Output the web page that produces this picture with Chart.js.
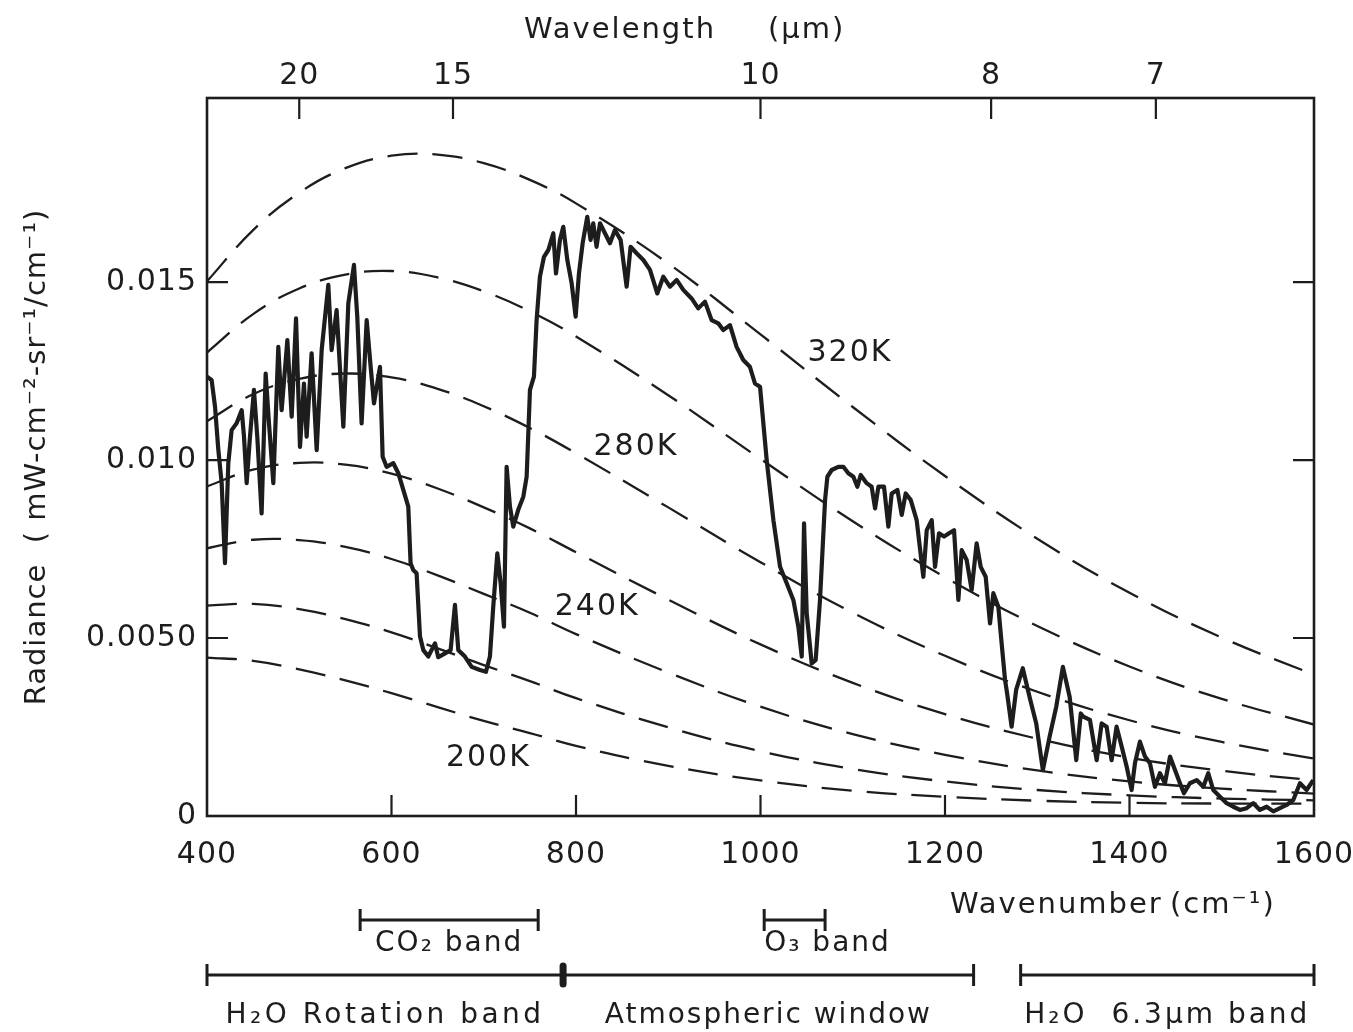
<!DOCTYPE html>
<html>
<head>
<meta charset="utf-8">
<title>Radiance spectrum</title>
<script src="https://cdn.jsdelivr.net/npm/chart.js@4.4.0/dist/chart.umd.min.js"></script>
<style>
  html, body { margin: 0; padding: 0; background: #fff; }
  canvas { display: block; }
</style>
</head>
<body>
<canvas id="spectrumChart" width="1353" height="1032"></canvas>
<script>
// measured spectrum (wavenumber in cm-1, radiance in mW cm-2 sr-1 / cm-1)
const wavenumber = [
  400, 405, 408.7, 412.3, 415.9, 419.5, 423.1, 426.7, 432.1, 437.6, 440.1, 443, 446.6, 450.9, 454.5,
  459.2, 463.6, 467.2, 471.9, 477.3, 480.9, 487.1, 491.8, 496.5, 500.8, 505.1, 508, 513.4, 518.9,
  524.3, 531.5, 535.1, 540.5, 547.8, 553.2, 559.3, 562.9, 567.6, 573.1, 577.4, 581, 587.5, 590.4,
  594.7, 602, 607.4, 612.8, 618.2, 620.7, 623.6, 627.2, 630.9, 634.5, 639.9, 647.1, 650.7, 658,
  664.1, 668.8, 672.4, 679.6, 686.9, 695.9, 702.4, 706.7, 710.3, 714.7, 718.3, 721.9, 724.8, 728.4,
  732, 737.4, 742.9, 746.5, 750.1, 754.4, 757.3, 760.9, 765.3, 770, 775.4, 778.3, 782.6, 786.2,
  790.6, 795.3, 799.6, 803.2, 807.2, 812.2, 815.8, 818.7, 822.3, 826, 831.4, 836.8, 842.2, 848.4,
  854.9, 859.2, 865.7, 873, 880.2, 888.1, 894.6, 901.8, 909.1, 916.3, 925.3, 932.5, 939.8, 947,
  954.2, 959.6, 966.9, 974.1, 981.3, 988.5, 994, 999.5, 1006.7, 1014, 1021.2, 1028.4, 1035.6, 1041,
  1044.7, 1047.2, 1050.1, 1055.5, 1059.8, 1064.5, 1070, 1072.5, 1077.2, 1084.4, 1089.8, 1095.2,
  1100.7, 1105, 1108.6, 1115.1, 1120.5, 1124.2, 1127.8, 1133.9, 1138.6, 1142.2, 1148.4, 1153.1,
  1157.4, 1162.8, 1169.3, 1176.5, 1180.2, 1185.6, 1189.2, 1193.5, 1199, 1204.4, 1209.8, 1214.5,
  1218.1, 1223.5, 1228.9, 1234.3, 1238.7, 1244.1, 1248.8, 1252.4, 1257.8, 1261.4, 1265.1, 1267.3,
  1272.2, 1277.1, 1284.3, 1291.6, 1298.9, 1306.1, 1313.4, 1320.6, 1327.8, 1335.1, 1342.3, 1347.2,
  1349.9, 1357.1, 1364.4, 1369.8, 1375.2, 1380.6, 1386, 1391.5, 1396.9, 1402.3, 1405.9, 1411.3,
  1416.8, 1422.2, 1427.6, 1433, 1438.4, 1443.9, 1449.3, 1454.7, 1459, 1465.5, 1472.8, 1480, 1485.4,
  1490.8, 1498.1, 1505.3, 1512.5, 1519.7, 1527, 1534.2, 1541.4, 1548.6, 1555.9, 1563.1, 1570.3,
  1577.5, 1584.8, 1592, 1599.2
];
const radiance = [
  0.01234, 0.01225, 0.0115, 0.01028, 0.00935, 0.0071, 0.00991, 0.01084, 0.01103, 0.0114, 0.01066, 0.00935, 0.01066, 0.01197, 0.01066,
  0.0085, 0.01243, 0.01103, 0.00935, 0.01318, 0.0114, 0.01337, 0.01122, 0.01398, 0.01037, 0.01215, 0.01066, 0.013, 0.01028,
  0.01309, 0.01492, 0.01309, 0.01421, 0.01094, 0.0144, 0.01548, 0.01403, 0.01103, 0.01393, 0.01262, 0.01159, 0.01262, 0.01009,
  0.00981, 0.00991, 0.00963, 0.00916, 0.00869, 0.0071, 0.00691, 0.00682, 0.00504, 0.00466, 0.00448, 0.00485, 0.00446, 0.00457,
  0.00466, 0.00593, 0.00466, 0.00448, 0.00419, 0.0041, 0.00405, 0.00448, 0.00588, 0.00738, 0.00654, 0.00532, 0.00981, 0.00869,
  0.00813, 0.0086, 0.00897, 0.00953, 0.01197, 0.01234, 0.01393, 0.01515, 0.01571, 0.0159, 0.01637, 0.01524, 0.01618, 0.01655,
  0.01562, 0.01496, 0.01403, 0.01524, 0.01609, 0.01683, 0.01618, 0.01665, 0.01599, 0.01665, 0.01637, 0.01609, 0.01646, 0.01618,
  0.01487, 0.01599, 0.01581, 0.01562, 0.01534, 0.01468, 0.01515, 0.01487, 0.01506, 0.01478, 0.01454, 0.01426, 0.01445, 0.01393,
  0.01384, 0.01365, 0.01379, 0.01318, 0.01281, 0.01262, 0.01215, 0.01206, 0.01, 0.00831, 0.007, 0.00654, 0.00607, 0.00532,
  0.00448, 0.00822, 0.00569, 0.00429, 0.00438, 0.00607, 0.00888, 0.00953, 0.00972, 0.00981, 0.00981, 0.00963,
  0.00953, 0.00925, 0.00958, 0.00935, 0.00925, 0.00864, 0.00925, 0.00925, 0.00813, 0.00906, 0.00916, 0.00846,
  0.00906, 0.00888, 0.00831, 0.00672, 0.00803, 0.00831, 0.007, 0.00794, 0.00785, 0.00794, 0.00803, 0.00607,
  0.00747, 0.00719, 0.00635, 0.00766, 0.007, 0.00672, 0.00541, 0.00626, 0.00588, 0.00485, 0.00382, 0.00345,
  0.00251, 0.00354, 0.00415, 0.00335, 0.0026, 0.00129, 0.00223, 0.00307, 0.00419, 0.00335, 0.00157, 0.00288,
  0.00279, 0.0027, 0.00157, 0.0026, 0.00251, 0.00157, 0.00251, 0.00195, 0.00139, 0.00073, 0.00148, 0.00209,
  0.00167, 0.00148, 0.00082, 0.0012, 0.00092, 0.00167, 0.00129, 0.00092, 0.00064, 0.00092, 0.00101, 0.00082, 0.0012,
  0.00073, 0.00054, 0.00036, 0.00026, 0.00017, 0.00022, 0.00036, 0.00017, 0.00026, 0.00013, 0.00022, 0.00031,
  0.00045, 0.00092, 0.00073, 0.00101
];

// blackbody reference curves, read at these wavenumbers
const planckWavenumber = [400, 450, 500, 550, 600, 650, 700, 750, 800, 900, 1000, 1100, 1200, 1300, 1400, 1500, 1600];
const planck320 = [0.01502, 0.01646, 0.01751, 0.0182, 0.01855, 0.01858, 0.01834, 0.01787, 0.01721, 0.01552, 0.01353, 0.01149, 0.00955, 0.00779, 0.00627, 0.00501, 0.00397];
const planck300 = [0.01302, 0.0141, 0.01482, 0.01521, 0.01531, 0.01513, 0.01474, 0.01418, 0.01347, 0.01182, 0.01003, 0.00828, 0.00671, 0.00534, 0.0042, 0.00329, 0.00257];
const planck280 = [0.01109, 0.01185, 0.01228, 0.01243, 0.01232, 0.012, 0.01151, 0.0109, 0.01019, 0.00867, 0.00713, 0.00571, 0.0045, 0.00349, 0.00269, 0.00208, 0.00161];
const planck260 = [0.00926, 0.00973, 0.00992, 0.00987, 0.00962, 0.0092, 0.00867, 0.00808, 0.00741, 0.00608, 0.00482, 0.00374, 0.00286, 0.00217, 0.00164, 0.00127, 0.001];
const planck240 = [0.00752, 0.00776, 0.00775, 0.00756, 0.00722, 0.00676, 0.00624, 0.00571, 0.00511, 0.00403, 0.00307, 0.0023, 0.00172, 0.00128, 0.00097, 0.00077, 0.00063];
const planck220 = [0.00591, 0.00596, 0.00581, 0.00553, 0.00516, 0.00471, 0.00424, 0.00379, 0.00331, 0.00249, 0.00182, 0.00132, 0.00097, 0.00073, 0.00058, 0.00049, 0.00044];
const planck200 = [0.00445, 0.00436, 0.00412, 0.00381, 0.00345, 0.00306, 0.00267, 0.00233, 0.00197, 0.00141, 0.001, 0.00071, 0.00054, 0.00043, 0.00037, 0.00035, 0.00035];
const temperatures = ['320K', '300K', '280K', '260K', '240K', '220K', '200K'];
const planckCurves = [planck320, planck300, planck280, planck260, planck240, planck220, planck200];

// axes
const wavenumberTicks = [400, 600, 800, 1000, 1200, 1400, 1600];
const wavelengthTicks = [20, 15, 10, 8, 7];
const radianceTicks = [0, 0.005, 0.010, 0.015];
const radianceTickLabels = ['0', '0.0050', '0.010', '0.015'];

// absorption bands and windows under the axis
const bandNames = ['CO\u2082 band', 'O\u2083 band', 'H\u2082O Rotation band', 'Atmospheric window', 'H\u2082O  6.3\u00b5m band'];
const bandStart = [566, 1004, 400, 786, 1282];
const bandEnd = [759, 1070, 786, 1231, 1600];

const INK = '#1d1d1d';
const FONT = '"DejaVu Sans", sans-serif';
Chart.defaults.font.family = FONT;
Chart.defaults.color = INK;

const spacing = {
  id: 'spacing',
  beforeDraw(chart) { chart.ctx.letterSpacing = '1px'; }
};

const frame = {
  id: 'frame',
  afterDatasetsDraw(chart) {
    const { ctx, chartArea: a, scales } = chart;
    const len = 21;
    ctx.save();
    ctx.strokeStyle = INK;
    ctx.lineWidth = 2.6;
    ctx.strokeRect(a.left, a.top, a.right - a.left, a.bottom - a.top);
    ctx.lineWidth = 2.2;
    ctx.beginPath();
    wavenumberTicks.slice(1, -1).forEach(v => {
      const px = scales.x.getPixelForValue(v);
      ctx.moveTo(px, a.bottom); ctx.lineTo(px, a.bottom - len);
    });
    wavelengthTicks.forEach(l => {
      const px = scales.x2.getPixelForValue(10000 / l);
      ctx.moveTo(px, a.top); ctx.lineTo(px, a.top + len);
    });
    radianceTicks.slice(1).forEach(v => {
      const py = scales.y.getPixelForValue(v);
      ctx.moveTo(a.left, py); ctx.lineTo(a.left + len, py);
      ctx.moveTo(a.right, py); ctx.lineTo(a.right - len, py);
    });
    ctx.stroke();
    ctx.restore();
  }
};

const annotations = {
  id: 'annotations',
  afterDraw(chart, args, opts) {
    const { ctx, scales } = chart;
    const x = scales.x, y = scales.y;
    ctx.save();
    ctx.letterSpacing = '2px';
    ctx.fillStyle = INK;
    ctx.strokeStyle = INK;

    // temperature labels on the dashed curves
    ctx.font = `30px ${FONT}`;
    ctx.textAlign = 'center';
    ctx.textBaseline = 'middle';
    opts.curveLabels.forEach(l => {
      ctx.fillText(l.text, x.getPixelForValue(l.at[0]), y.getPixelForValue(l.at[1]));
    });

    // axis titles
    ctx.font = `29px ${FONT}`;
    ctx.textAlign = 'left';
    ctx.textBaseline = 'alphabetic';
    opts.titles.forEach(t => ctx.fillText(t.text, t.x, t.y));

    // band bars
    ctx.font = `28px ${FONT}`;
    bandNames.forEach((name, i) => {
      const row = opts.rows[opts.bandRow[i]];
      const x0 = x.getPixelForValue(bandStart[i]);
      const x1 = x.getPixelForValue(bandEnd[i]);
      ctx.lineWidth = 3;
      ctx.lineCap = 'butt';
      ctx.beginPath();
      ctx.moveTo(x0, row.bar); ctx.lineTo(x1, row.bar);
      ctx.moveTo(x0, row.bar - 11); ctx.lineTo(x0, row.bar + 11);
      ctx.moveTo(x1, row.bar - 11); ctx.lineTo(x1, row.bar + 11);
      ctx.stroke();
      const align = opts.bandAlign[i];
      ctx.textAlign = align;
      ctx.letterSpacing = opts.bandSpacing[i];
      ctx.fillText(name, align === 'left' ? x0 : (x0 + x1) / 2, row.text);
    });
    // heavier joint between the rotation band and the window
    const jx = x.getPixelForValue(bandEnd[2]);
    const jr = opts.rows[1];
    ctx.lineWidth = 7;
    ctx.lineCap = 'round';
    ctx.beginPath();
    ctx.moveTo(jx, jr.bar - 9); ctx.lineTo(jx, jr.bar + 9);
    ctx.stroke();
    ctx.restore();
  }
};

// keep the end labels from pulling the plot area in
const noEdgePadding = s => {
  s.paddingLeft = 0;
  s.paddingRight = 0;
};

const datasets = [{
  label: 'Spectrum',
  data: wavenumber.map((w, i) => ({ x: w, y: radiance[i] })),
  borderColor: INK,
  borderWidth: 4.2,
  borderJoinStyle: 'round',
  pointRadius: 0,
  tension: 0
}].concat(planckCurves.map((vals, i) => ({
  label: temperatures[i],
  data: planckWavenumber.map((w, j) => ({ x: w, y: vals[j] })),
  borderColor: INK,
  borderWidth: 2.3,
  borderDash: [30, 15],
  pointRadius: 0,
  tension: 0.4
})));

new Chart(document.getElementById('spectrumChart'), {
  type: 'line',
  data: { datasets },
  plugins: [spacing, frame, annotations],
  options: {
    responsive: false,
    animation: false,
    layout: { padding: { left: 0, right: 39, top: 0, bottom: 0 } },
    plugins: {
      legend: { display: false },
      tooltip: { enabled: false },
      annotations: {
        curveLabels: [
          { text: '320K', at: [1097, 0.0130] },
          { text: '280K', at: [865, 0.01037] },
          { text: '240K', at: [823, 0.00587] },
          { text: '200K', at: [705, 0.00163] }
        ],
        titles: [
          { text: 'Wavelength', x: 524, y: 38 },
          { text: '(\u00b5m)', x: 768, y: 38 },
          { text: 'Wavenumber', x: 950, y: 913 },
          { text: '(cm\u207b\u00b9)', x: 1170, y: 913 }
        ],
        rows: [{ bar: 920, text: 951 }, { bar: 975, text: 1023 }],
        bandRow: [0, 0, 1, 1, 1],
        bandAlign: ['center', 'left', 'center', 'center', 'center'],
        bandSpacing: ['2px', '2px', '3.5px', '2px', '3px']
      }
    },
    scales: {
      x: {
        type: 'linear',
        position: 'bottom',
        min: 400,
        max: 1600,
        afterBuildTicks: s => { s.ticks = wavenumberTicks.map(v => ({ value: v })); },
        afterFit: s => { s.height = 216; noEdgePadding(s); },
        ticks: {
          callback: (v, i) => String(wavenumberTicks[i]),
          font: { size: 30 },
          color: INK,
          padding: 21,
          autoSkip: false,
          maxRotation: 0
        },
        grid: { display: false, drawTicks: false },
        border: { display: false }
      },
      x2: {
        type: 'linear',
        position: 'top',
        min: 400,
        max: 1600,
        afterBuildTicks: s => { s.ticks = wavelengthTicks.map(l => ({ value: 10000 / l })); },
        afterFit: s => { s.height = 98; noEdgePadding(s); },
        ticks: {
          callback: (v, i) => String(wavelengthTicks[i]),
          font: { size: 30 },
          color: INK,
          padding: 4,
          autoSkip: false,
          maxRotation: 0
        },
        grid: { display: false, drawTicks: false },
        border: { display: false }
      },
      y: {
        type: 'linear',
        min: 0,
        max: 0.02017,
        afterBuildTicks: s => { s.ticks = radianceTicks.map(v => ({ value: v })); },
        afterFit: s => { s.width = 207; },
        ticks: {
          callback: (v, i) => radianceTickLabels[i],
          font: { size: 30 },
          color: INK,
          padding: 10
        },
        title: {
          display: true,
          text: 'Radiance  ( mW-cm\u207b\u00b2-sr\u207b\u00b9/cm\u207b\u00b9)',
          font: { size: 29 },
          color: INK,
          padding: { top: 20, bottom: 0 }
        },
        grid: { display: false, drawTicks: false },
        border: { display: false }
      }
    }
  }
});
</script>
</body>
</html>
